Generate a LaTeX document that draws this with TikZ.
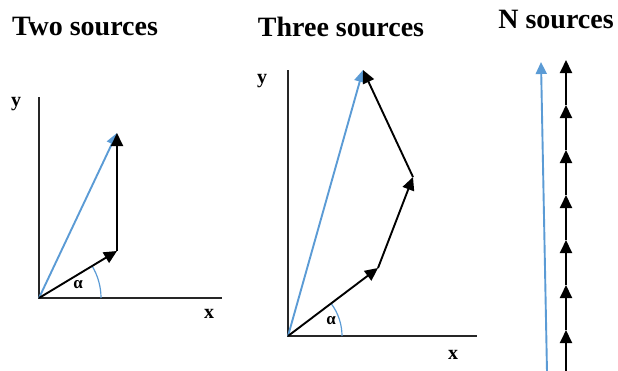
\documentclass[tikz,border=0pt]{standalone}
\usepackage{fontspec}
\setmainfont{Liberation Serif}
\definecolor{SkyBlue}{RGB}{91,155,213}
\usetikzlibrary{arrows.meta, calc}

\begin{document}
\begin{tikzpicture}[x=1pt, y=-1pt,
    axis/.style={line width=1.9pt, black!85},
    vec/.style={line width=1.9pt, -{Triangle[length=13pt, width=12pt]}},
    sum/.style={line width=1.9pt, SkyBlue, -{Triangle[length=12pt, width=11pt]}},
    title/.style={font=\bfseries\fontsize{28}{30}\selectfont},
    lbl/.style={font=\bfseries\fontsize{20}{24}\selectfont},
    ang/.style={font=\bfseries\fontsize{17}{20}\selectfont}]
  \useasboundingbox (0,0) rectangle (618,370);

  % two sources
  \node[title] (t1) at (85,27) {Two sources};
  \coordinate (o1) at (39,298);
  \coordinate (y1) at (39,97);
  \coordinate (x1) at (222,298);
  \coordinate (a1) at (117,251);
  \coordinate (b1) at (117,133);
  \draw[axis] (y1) -- (o1) -- (x1);
  \draw[SkyBlue, line width=1.2pt] ($(o1)+(62,0)$) arc[start angle=0, end angle=-31, radius=62];
  \draw[sum] (o1) -- (b1);
  \draw[vec] (o1) -- (a1);
  \draw[vec] (a1) -- (b1);
  \node[lbl] (ly1) at (16,104) {y};
  \node[lbl] (lx1) at (209,314) {x};
  \node[ang] (al1) at (78,285) {α};

  % three sources
  \node[title] (t2) at (341,27) {Three sources};
  \coordinate (o2) at (288,336);
  \coordinate (y2) at (288,70);
  \coordinate (x2) at (477,336);
  \coordinate (a2) at (378,268);
  \coordinate (b2) at (413,177);
  \coordinate (c2) at (363,70);
  \draw[axis] (y2) -- (o2) -- (x2);
  \draw[SkyBlue, line width=1.2pt] ($(o2)+(54,0)$) arc[start angle=0, end angle=-37, radius=54];
  \draw[sum] (o2) -- (c2);
  \draw[vec] (o2) -- (a2);
  \draw[vec] (a2) -- (b2);
  \draw[vec] (b2) -- (c2);
  \node[lbl] (ly2) at (262,81) {y};
  \node[lbl] (lx2) at (453,355) {x};
  \node[ang] (al2) at (331,321) {α};

  % N sources
  \node[title] (t3) at (556,20) {N sources};
  \coordinate (sb) at (547,372);
  \coordinate (st) at (541,62);
  \draw[sum] (sb) -- (st);
  \coordinate (n0) at (566,372);
  \foreach \i/\yy in {1/330,2/285,3/240,4/195,5/150,6/105,7/60}
    \coordinate (n\i) at (566,\yy);
  \foreach \i [evaluate=\i as \j using int(\i-1)] in {1,...,7}
    \draw[vec] (n\j) -- (n\i);
\end{tikzpicture}
\end{document}
